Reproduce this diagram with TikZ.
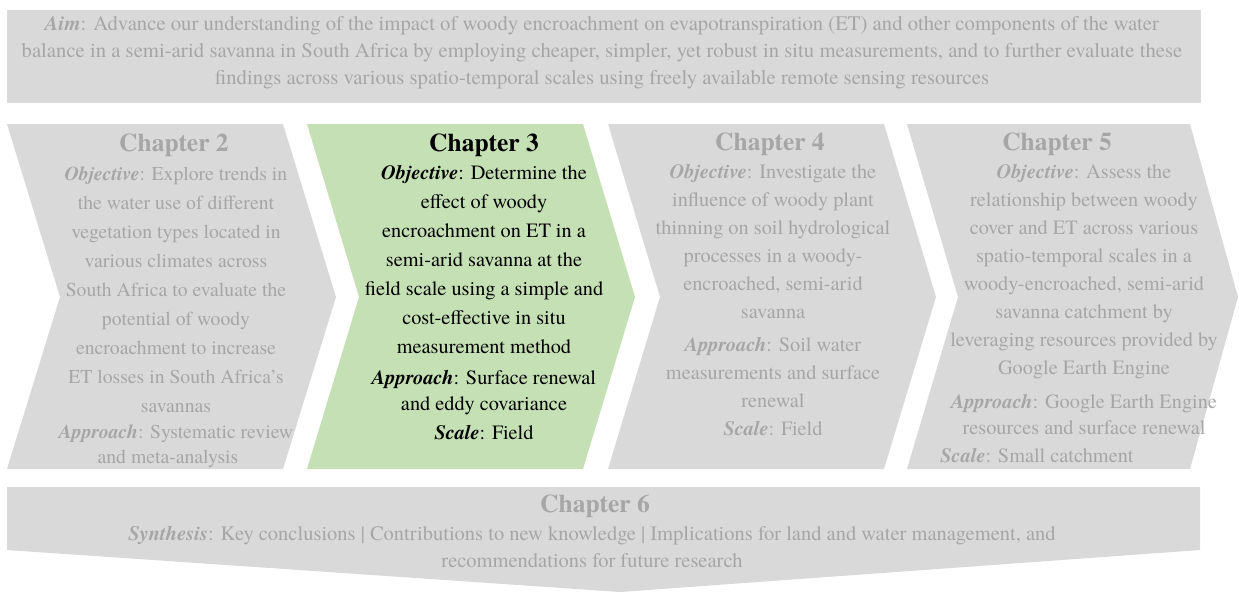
\documentclass[tikz,border=0pt]{standalone}
\usepackage{fontspec}
\IfFontExistsTF{texgyretermes-regular.otf}{%
  \setmainfont{texgyretermes}[Extension=.otf, UprightFont=*-regular, BoldFont=*-bold, ItalicFont=*-italic, BoldItalicFont=*-bolditalic]%
}{\setmainfont{Liberation Serif}}
\definecolor{boxgrey}{HTML}{D9D9D9}
\definecolor{txtgrey}{HTML}{A6A6A6}
\definecolor{chgreen}{HTML}{C5E0B4}
\newcommand{\ttl}[1]{{\fontsize{25.5}{30}\selectfont\bfseries #1}}
\newcommand{\lbl}[1]{\textbf{\textit{#1}}}
\tikzset{
  greyshape/.style={fill=boxgrey},
  greenshape/.style={fill=chgreen},
  bodytext/.style={align=center, inner sep=0pt, anchor=north, text=txtgrey,
    font=\fontsize{20.3}{28}\selectfont},
  activetext/.style={bodytext, text=black},
}
\begin{document}
\begin{tikzpicture}[x=1pt,y=-1pt]
\useasboundingbox (0,0) rectangle (1239,594);
\fill[white] (0,0) rectangle (1239,594);
% aim box
\fill[greyshape] (7,10) rectangle (1201,103);
\node[bodytext, font=\fontsize{20.7}{27}\selectfont] (aim) at (602,16) {\lbl{Aim}: Advance our understanding of the impact of woody encroachment on evapotranspiration (ET) and other components of the water\\
balance in a semi-arid savanna in South Africa by employing cheaper, simpler, yet robust in situ measurements, and to further evaluate these\\
findings across various spatio-temporal scales using freely available remote sensing resources};
% chevrons
\fill[greyshape] (7,124) -- (283,124) -- (336,297) -- (283,469) -- (7,469) -- (60,297) -- cycle;
\fill[greenshape] (307,124) -- (583,124) -- (635,297) -- (583,469) -- (307,469) -- (359,297) -- cycle;
\fill[greyshape] (608,124) -- (884,124) -- (936,297) -- (884,469) -- (608,469) -- (660,297) -- cycle;
\fill[greyshape] (907,124) -- (1190,124) -- (1238,297) -- (1190,469) -- (907,469) -- (958,297) -- cycle;
% chapter 6
\fill[greyshape] (7,487) -- (1200,487) -- (1200,550) -- (620,592) -- (7,550) -- cycle;

\node[bodytext, font=\fontsize{19.7}{28}\selectfont] (c2) at (176,134) {\ttl{Chapter 2}\hspace*{4pt}\\[1pt]
\lbl{Objective}: Explore trends in\\[1pt]
the water use of different\\[1pt]
vegetation types located in\\[1pt]
various climates across\\[1pt]
South Africa to evaluate the\\[1pt]
potential of woody\\[1pt]
encroachment to increase\\[1pt]
ET losses in South Africa’s\\[1pt]
savannas\\[-2pt]
\lbl{Approach}: Systematic review\hspace*{16pt}\\[-3pt]
and meta-analysis\hspace*{16pt}};

\node[activetext] (c3) at (484,134) {\ttl{Chapter 3}\\[0pt]
\lbl{Objective}: Determine the\\[1pt]
effect of woody\\[1pt]
encroachment on ET in a\\[1pt]
semi-arid savanna at the\\[1pt]
field scale using a simple and\\[1pt]
cost-effective in situ\\[1pt]
measurement method\\[3pt]
\lbl{Approach}: Surface renewal\\[-2pt]
and eddy covariance\\[1pt]
\lbl{Scale}: Field};

\node[bodytext] (c4) at (773,133) {\ttl{Chapter 4}\hspace*{6pt}\\[0pt]
\lbl{Objective}: Investigate the\\
influence of woody plant\\
thinning on soil hydrological\\
processes in a woody-\\
encroached, semi-arid\\
savanna\\[5pt]
\lbl{Approach}: Soil water\\
measurements and surface\\
renewal\\
\lbl{Scale}: Field};

\node[bodytext] (c5) at (1084,133) {\ttl{Chapter 5}\hspace*{54pt}\\[0pt]
\lbl{Objective}: Assess the\\
relationship between woody\\
cover and ET across various\\
spatio-temporal scales in a\\
woody-encroached, semi-arid\\
savanna catchment by\\
leveraging resources provided by\\
Google Earth Engine\\[6pt]
\lbl{Approach}: Google Earth Engine\hspace*{48pt}\\[-2pt]
resources and surface renewal\hspace*{48pt}\\
\lbl{Scale}: Small catchment\hspace*{94pt}};

\node[bodytext] (c6) at (595,495) {\ttl{Chapter 6}};
\node[bodytext, font=\fontsize{20.5}{27}\selectfont] (c6b) at (592,526) {\lbl{Synthesis}: Key conclusions | Contributions to new knowledge | Implications for land and water management, and\\
recommendations for future research};
\end{tikzpicture}
\end{document}
